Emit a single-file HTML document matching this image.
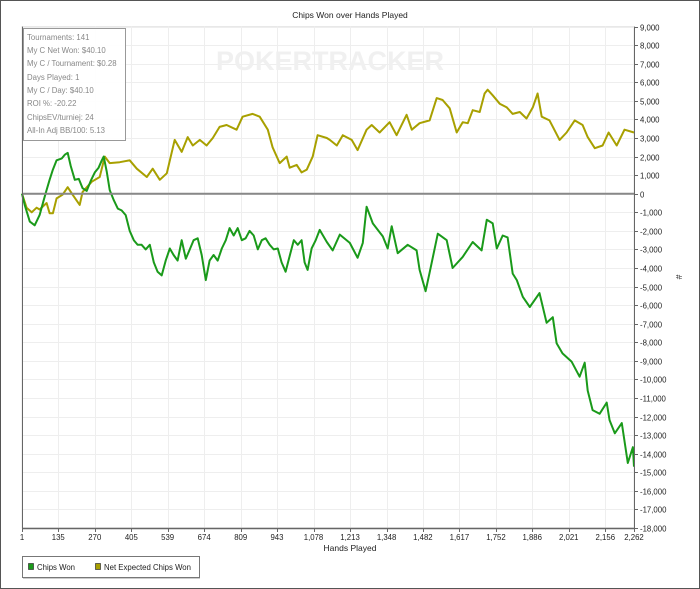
<!DOCTYPE html>
<html><head><meta charset="utf-8"><style>
body{margin:0;background:#fff;}
#wrap{position:relative;width:700px;height:589px;overflow:hidden;background:#fff;font-family:"Liberation Sans",sans-serif;}
</style></head><body>
<div id="wrap">
<svg id="chart" width="700" height="589" xmlns="http://www.w3.org/2000/svg" style="position:absolute;left:0;top:0">
<rect x="0.5" y="0.5" width="699" height="588" fill="none" stroke="#555" stroke-width="1"/>
<text x="350" y="18" font-size="8.5" text-anchor="middle" fill="#222">Chips Won over Hands Played</text>
<g id="grid"></g>
<text x="330" y="70" font-size="27" font-weight="bold" text-anchor="middle" fill="#f0f0f0">POKERTRACKER</text>
<g id="series"></g>
<g id="axes"></g>
<text x="350" y="551" font-size="8.5" text-anchor="middle" fill="#222">Hands Played</text>
<text x="0" y="0" font-size="8.5" text-anchor="middle" fill="#222" transform="translate(676,277) rotate(90)">#</text>
<g>
<rect x="23.5" y="28.5" width="102" height="112" fill="#fff" fill-opacity="0.9" stroke="#999"/>
<g font-size="7.8" fill="#888">
<text x="27" y="40">Tournaments: 141</text>
<text x="27" y="53">My C Net Won: $40.10</text>
<text x="27" y="66">My C / Tournament: $0.28</text>
<text x="27" y="80">Days Played: 1</text>
<text x="27" y="93">My C / Day: $40.10</text>
<text x="27" y="106">ROI %: -20.22</text>
<text x="27" y="120">ChipsEV/turniej: 24</text>
<text x="27" y="133">All-In Adj BB/100: 5.13</text>
</g></g>
<g>
<rect x="22.5" y="556.5" width="177" height="21" fill="#fff" stroke="#777"/>
<line x1="23" y1="578.5" x2="200" y2="578.5" stroke="#ccc"/>
<g>
<rect x="28.5" y="563.5" width="5" height="6" fill="#1a9a1a" stroke="#333" stroke-width="0.7"/>
<text x="37" y="570" font-size="7.8" fill="#222">Chips Won</text></g>
<g>
<rect x="95.5" y="563.5" width="5" height="6" fill="#a8a000" stroke="#333" stroke-width="0.7"/>
<text x="104" y="570" font-size="7.8" fill="#222">Net Expected Chips Won</text></g>
</g>
</svg>
</div>
<script>
const xTicks=[1,135,270,405,539,674,809,943,1078,1213,1348,1482,1617,1752,1886,2021,2156,2262];
const yTicks=[9000,8000,7000,6000,5000,4000,3000,2000,1000,0,-1000,-2000,-3000,-4000,-5000,-6000,-7000,-8000,-9000,-10000,-11000,-12000,-13000,-14000,-15000,-16000,-17000,-18000];
const wonHands=[1,11,30,48,66,81,92,103,115,129,148,159,170,181,196,211,225,240,255,270,284,296,303,314,325,340,355,369,384,399,414,428,443,458,473,488,502,517,532,547,561,576,591,606,621,635,650,665,680,694,709,724,739,754,768,783,798,813,827,842,857,872,887,901,916,931,946,960,975,990,1005,1020,1034,1045,1056,1071,1086,1101,1127,1149,1175,1212,1241,1260,1274,1297,1334,1352,1367,1389,1426,1459,1470,1492,1507,1537,1570,1592,1629,1666,1699,1718,1740,1755,1777,1795,1814,1829,1851,1877,1913,1939,1962,1976,1998,2032,2061,2080,2091,2109,2135,2161,2172,2191,2217,2239,2258,2262];
const wonValues=[0,-600,-1500,-1700,-1150,-350,200,750,1300,1800,1900,2100,2200,1500,750,800,300,150,700,1150,1400,1800,2000,1200,200,-350,-800,-900,-1150,-2000,-2500,-2750,-2750,-3000,-2750,-3700,-4200,-4400,-3600,-2950,-3300,-3600,-2500,-3500,-3000,-2500,-2400,-3300,-4650,-3600,-3300,-3600,-2950,-2500,-1850,-2250,-1850,-2500,-2400,-2000,-2250,-3000,-2500,-2400,-2750,-3000,-2950,-3700,-4200,-3350,-2500,-2750,-2500,-3700,-4100,-2950,-2500,-1950,-2600,-3050,-2200,-2650,-3450,-2650,-700,-1600,-2300,-2950,-1750,-3200,-2750,-3050,-4100,-5250,-4250,-2150,-2500,-4000,-3400,-2600,-3050,-1400,-1600,-2950,-2250,-2350,-4300,-4650,-5550,-6100,-5350,-6950,-6650,-8050,-8600,-9050,-9850,-9100,-10600,-11650,-11850,-11250,-12200,-12900,-12350,-14500,-13650,-14700];
const evHands=[1,18,37,55,66,92,103,115,129,151,170,188,214,225,259,288,307,325,362,399,425,462,484,510,536,565,591,613,632,658,683,706,731,757,794,816,853,879,909,927,953,979,990,1016,1034,1053,1075,1093,1127,1138,1164,1186,1219,1241,1274,1293,1322,1359,1385,1422,1441,1470,1507,1533,1555,1581,1607,1629,1648,1666,1692,1710,1721,1740,1766,1792,1814,1840,1865,1888,1906,1921,1950,1987,2013,2043,2072,2091,2117,2146,2168,2198,2227,2262];
const evValues=[0,-750,-1000,-750,-850,-500,-1050,-1050,-250,-50,350,-50,-600,100,650,900,2000,1650,1700,1800,1350,900,1350,750,1100,2900,2250,3050,2600,2900,2600,3000,3600,3700,3450,4150,4300,4150,3450,2500,1650,2000,1400,1550,1150,1300,2000,3150,3000,2900,2600,3150,2900,2350,3450,3700,3300,3850,3150,4250,3450,3800,3950,5150,5050,4600,3300,3850,3800,4500,4400,5400,5600,5300,4850,4650,4300,4400,4050,4650,5400,4150,3950,2900,3300,3950,3700,3050,2450,2600,3300,2600,3450,3300];

const L=22,R=634,T=26.6,B=528;
const xMin=1,xMax=2262,yMin=-18000,yMax=9000;
function xs(h){return L+(h-xMin)/(xMax-xMin)*(R-L);}
function ys(v){return T+(yMax-v)/(yMax-yMin)*(B-T);}
const NS="http://www.w3.org/2000/svg";
function mk(tag,attrs,parent){const e=document.createElementNS(NS,tag);for(const k in attrs)e.setAttribute(k,attrs[k]);parent.appendChild(e);return e;}
const grid=document.getElementById('grid'),axes=document.getElementById('axes'),series=document.getElementById('series');
mk('rect',{x:L,y:T,width:R-L,height:B-T,fill:'none',stroke:'#e6e6e6'},grid);
xTicks.forEach(t=>{const x=Math.round(xs(t))+0.5;
 const g=mk('line',{x1:x,y1:T,x2:x,y2:B,stroke:'#eeeeee'},grid);
 
 
 mk('line',{x1:x,y1:B,x2:x,y2:B+4,stroke:'#666'},axes);
 const tx=mk('text',{x:xs(t),y:540,'font-size':7.8,'text-anchor':'middle',fill:'#222'},axes);
 tx.textContent=t.toLocaleString('en-US');
 
 
});
yTicks.forEach(t=>{const y=Math.round(ys(t))+0.5;
 const g=mk('line',{x1:L,y1:y,x2:R,y2:y,stroke:'#eeeeee'},grid);
 
 
 mk('line',{x1:R,y1:y,x2:R+4,y2:y,stroke:'#666'},axes);
 const tx=mk('text',{x:640,y:y+3,'font-size':7.8,fill:'#222'},axes);
 tx.textContent=t.toLocaleString('en-US');
 
 
});
const zl=mk('line',{x1:L,y1:ys(0),x2:R,y2:ys(0),stroke:'#888','stroke-width':2},axes);


const la=mk('line',{x1:L+0.5,y1:T,x2:L+0.5,y2:B,stroke:'#666'},axes);


const ra=mk('line',{x1:R+0.5,y1:T,x2:R+0.5,y2:B,stroke:'#666'},axes);


const ba=mk('line',{x1:L,y1:B+0.5,x2:R,y2:B+0.5,stroke:'#666','stroke-width':1.5},axes);


function path(hs,vs){return hs.map((h,i)=>(i?'L':'M')+xs(h).toFixed(1)+','+ys(vs[i]).toFixed(1)).join('');}
const p1=mk('path',{d:path(evHands,evValues),fill:'none',stroke:'#a8a000','stroke-width':2,'stroke-linejoin':'round'},series);


const p2=mk('path',{d:path(wonHands,wonValues),fill:'none',stroke:'#1a9a1a','stroke-width':2,'stroke-linejoin':'round'},series);


</script>
</body></html>
